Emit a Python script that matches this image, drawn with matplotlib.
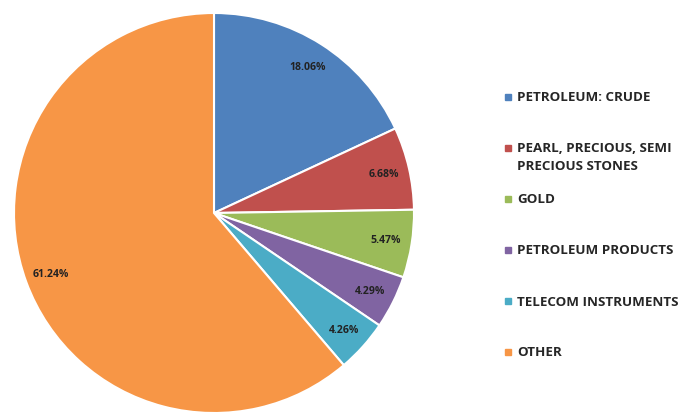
import matplotlib
matplotlib.use("Agg")
import matplotlib.pyplot as plt
import matplotlib.patches as mpatches

categories = [
    "PETROLEUM: CRUDE",
    "PEARL, PRECIOUS, SEMI\nPRECIOUS STONES",
    "GOLD",
    "PETROLEUM PRODUCTS",
    "TELECOM INSTRUMENTS",
    "OTHER",
]
shares = [18.06, 6.68, 5.47, 4.29, 4.26, 61.24]
colors = ["#4F81BD", "#C0504D", "#9BBB59", "#8064A2", "#4BACC6", "#F79646"]

W, H = 688, 414
fig = plt.figure(figsize=(W / 100, H / 100), dpi=100)

# pie axes: 400px square, centre at (214, 214) from top-left
ax = fig.add_axes([14 / W, 0, 400 / W, 400 / H])
wedges, texts, autotexts = ax.pie(
    shares, colors=colors, startangle=90, counterclock=False,
    autopct="%.2f%%", pctdistance=0.87,
    wedgeprops=dict(edgecolor="white", linewidth=1.5),
    textprops=dict(fontsize=7.6, fontweight="bold", color="#222222",
                   family="Open Sans"),
)
ax.set_xlim(-1, 1)
ax.set_ylim(-1, 1)
ax.set_aspect("equal")

# legend drawn by hand, one row per category
x_box, x_txt = 505 / W, 517 / W
y0, step = 98, 51
for i, (lab, col) in enumerate(zip(categories, colors)):
    y = y0 + i * step
    fig.patches.append(mpatches.Rectangle(
        (x_box, 1 - (y + 3) / H), 6 / W, 6 / H,
        color=col, transform=fig.transFigure, figure=fig))
    lines = lab.split("\n")
    for k, line in enumerate(lines):
        fig.text(x_txt, 1 - (y + 18 * k) / H, line, fontsize=9.6,
                 fontweight="bold", family="Open Sans", color="#262626",
                 va="center", ha="left")

fig.savefig("out.png", dpi=100)
